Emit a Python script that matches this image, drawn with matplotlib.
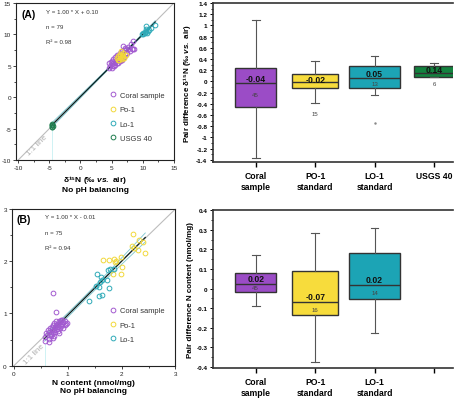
import numpy as np
import matplotlib
matplotlib.use("Agg")
import matplotlib.pyplot as plt
from matplotlib.lines import Line2D
from matplotlib.ticker import MultipleLocator, FuncFormatter

plt.rcParams['font.family'] = ['Liberation Sans', 'DejaVu Sans']
plt.rcParams['axes.unicode_minus'] = False
plt.rcParams['mathtext.fontset'] = 'custom'
plt.rcParams['mathtext.rm'] = 'Liberation Sans:bold'
plt.rcParams['mathtext.bf'] = 'Liberation Sans:bold'
plt.rcParams['mathtext.it'] = 'Liberation Sans:italic:bold'

# ---------------- DATA ----------------
# Panel A scatter: d15N with pH balancing (y) vs no pH balancing (x)
a_coral_x = [4.5, 4.6, 4.7, 4.9, 5.0, 5.0, 5.1, 5.2, 5.3, 5.3, 5.4, 5.5, 5.5, 5.6, 5.7,
             5.8, 5.9, 6.0, 6.0, 6.1, 6.2, 6.3, 6.3, 6.4, 6.5, 6.6, 6.7, 6.8, 6.9, 7.0,
             7.1, 7.2, 7.3, 7.5, 7.6, 7.7, 7.9, 8.1, 8.3, 8.4, 8.5, 8.6, 6.6, 5.8, 7.0]
a_coral_y = [5.4, 4.7, 5.0, 5.6, 4.6, 5.3, 5.8, 5.0, 5.5, 6.1, 4.9, 5.6, 6.4, 5.2, 6.0,
             6.8, 5.5, 5.9, 6.3, 5.4, 6.6, 5.7, 7.1, 6.2, 5.9, 6.8, 7.4, 8.2, 6.5, 7.5,
             7.9, 6.9, 7.6, 7.1, 7.7, 8.0, 7.4, 8.4, 7.6, 8.9, 7.7, 7.6, 6.0, 6.5, 6.4]
a_po1_x = [5.9, 6.0, 6.1, 6.2, 6.3, 6.3, 6.4, 6.5, 6.6, 6.6, 6.7, 6.8, 6.9, 7.0, 7.3]
a_po1_y = [6.3, 6.0, 6.6, 5.9, 6.2, 6.9, 6.5, 7.3, 6.1, 6.7, 6.4, 7.0, 6.6, 6.2, 6.8]
a_lo1_x = [9.9, 10.0, 10.1, 10.3, 10.4, 10.5, 10.6, 10.7, 10.6, 10.8, 11.0, 11.3, 12.0]
a_lo1_y = [10.1, 10.3, 10.0, 10.4, 10.2, 10.5, 11.3, 10.3, 10.8, 10.6, 10.7, 11.0, 11.5]
a_usgs_x = [-4.6, -4.5, -4.5, -4.4, -4.6, -4.5]
a_usgs_y = [-4.3, -4.5, -4.7, -4.6, -4.8, -4.4]
a_stats = ["Y = 1.00 * X + 0.10", "n = 79", "R² = 0.98"]

# Panel B scatter: N content
b_coral_x = [0.57, 0.58, 0.60, 0.62, 0.63, 0.65, 0.66, 0.67, 0.68, 0.69, 0.70, 0.70, 0.71, 0.72, 0.73,
             0.74, 0.75, 0.75, 0.76, 0.77, 0.78, 0.79, 0.80, 0.80, 0.81, 0.82, 0.83, 0.84, 0.85, 0.86,
             0.87, 0.88, 0.89, 0.90, 0.91, 0.92, 0.94, 0.95, 0.97, 0.99, 0.66, 0.72, 0.84, 0.73, 0.78]
b_coral_y = [0.55, 0.47, 0.62, 0.58, 0.68, 0.52, 0.64, 0.72, 0.60, 0.56, 0.75, 0.66, 0.70, 0.62, 0.78,
             0.57, 0.68, 0.81, 0.74, 0.64, 0.77, 0.85, 0.70, 0.80, 0.66, 0.74, 0.86, 0.78, 0.72, 0.83,
             0.88, 0.76, 0.80, 0.87, 0.73, 0.84, 0.78, 0.86, 0.80, 0.82, 0.45, 0.53, 0.62, 1.40, 1.02]
b_po1_x = [1.65, 1.77, 1.85, 1.88, 1.90, 1.99, 2.01, 1.84, 1.99, 2.19, 2.21, 2.23, 2.31, 2.32, 2.39, 2.44]
b_po1_y = [2.02, 2.02, 2.05, 1.98, 2.00, 2.09, 1.88, 1.75, 1.75, 2.29, 2.52, 2.26, 2.21, 2.40, 2.37, 2.15]
b_lo1_x = [1.54, 1.62, 1.64, 1.59, 1.53, 1.58, 1.77, 1.72, 1.75, 1.79, 1.86, 1.58, 1.64, 1.40]
b_lo1_y = [1.76, 1.70, 1.65, 1.61, 1.53, 1.51, 1.48, 1.64, 1.83, 1.85, 1.86, 1.34, 1.36, 1.23]
b_stats = ["Y = 1.00 * X - 0.01", "n = 75", "R² = 0.94"]

# Box panels
box_a_labels = ["Coral\nsample", "PO-1\nstandard", "LO-1\nstandard", "USGS 40"]
box_a_whislo = [-1.37, -0.39, -0.24, 0.08]
box_a_q1 = [-0.46, -0.11, -0.11, 0.08]
box_a_med = [-0.03, -0.015, 0.057, 0.15]
box_a_q3 = [0.24, 0.13, 0.27, 0.28]
box_a_whishi = [1.10, 0.36, 0.45, 0.32]
box_a_fliers = [[], [], [-0.75], []]
box_a_mean = [-0.04, -0.02, 0.05, 0.14]
box_a_n = [45, 15, 13, 6]

box_b_labels = ["Coral\nsample", "PO-1\nstandard", "LO-1\nstandard", ""]
box_b_whislo = [-0.09, -0.373, -0.227]
box_b_q1 = [-0.017, -0.137, -0.051]
box_b_med = [0.024, -0.066, 0.019]
box_b_q3 = [0.080, 0.092, 0.181]
box_b_whishi = [0.171, 0.285, 0.31]
box_b_mean = [0.02, -0.07, 0.02]
box_b_n = [45, 16, 14]

# ---------------- STYLE ----------------
c_coral, c_po1, c_lo1, c_usgs = '#a25ad0', '#f2d83a', '#2eaab8', '#1f7d4f'
box_colors = ['#9b4cc6', '#f7dc3c', '#1ca4b5', '#13823f']

fig = plt.figure(figsize=(4.54, 4.06), dpi=100)
ax1 = fig.add_axes([0.036, 0.6034, 0.347, 0.3867])
ax2 = fig.add_axes([0.469, 0.5985, 0.529, 0.3916])
ax3 = fig.add_axes([0.0264, 0.0968, 0.360, 0.386])
ax4 = fig.add_axes([0.469, 0.0911, 0.529, 0.389])

tick_fs = 4.6
lab_fs = 6.0


def scatter_panel(ax, groups, lims, major, minor, stats, letter, xlabel, leg_anchor, text_xy):
    lo, hi = lims
    ax.set_xlim(lo - (hi - lo) * 0.012, hi)
    ax.set_ylim(lo, hi)
    # 1:1 line
    ax.plot([lo, hi], [lo, hi], color='#bdbdbd', lw=0.8, zorder=1)
    # regression with CI
    allx = np.concatenate([np.asarray(g[0], float) for g in groups])
    ally = np.concatenate([np.asarray(g[1], float) for g in groups])
    b1, b0 = np.polyfit(allx, ally, 1)
    n = len(allx)
    resid = ally - (b0 + b1 * allx)
    s = np.sqrt(np.sum(resid ** 2) / (n - 2))
    xm = allx.mean()
    sxx = np.sum((allx - xm) ** 2)
    xs = np.linspace(allx.min(), allx.max(), 100)
    ys = b0 + b1 * xs
    ci = 1.99 * s * np.sqrt(1.0 / n + (xs - xm) ** 2 / sxx)
    ax.plot([xs[0], xs[0]], [lo, ys[0] - ci[0] - (hi - lo) * 0.02], color='#c8f0f3', lw=0.6, zorder=1)
    ax.plot(xs, ys - ci, color='#7cc6cf', lw=0.6, zorder=2)
    ax.plot(xs, ys + ci, color='#7cc6cf', lw=0.6, zorder=2)
    ax.plot(xs, ys, color='#0b1f1f', lw=0.9, zorder=3)
    handles = []
    for gx, gy, col, lab in groups:
        ax.plot(gx, gy, ls='none', marker='o', ms=3.4, mfc='none', mec=col, mew=0.7, zorder=4)
        handles.append(Line2D([], [], ls='none', marker='o', ms=3.4, mfc='none', mec=col, mew=0.7, label=lab))
    leg = ax.legend(handles=handles, loc='upper left', bbox_to_anchor=leg_anchor, frameon=False,
                    fontsize=5.4, handlelength=0.8, handletextpad=0.5, labelspacing=0.95,
                    borderpad=0, borderaxespad=0)
    for t in leg.get_texts():
        t.set_color('#333333')
    ax.xaxis.set_major_locator(MultipleLocator(major))
    ax.xaxis.set_minor_locator(MultipleLocator(minor))
    ax.yaxis.set_major_locator(MultipleLocator(major))
    ax.yaxis.set_minor_locator(MultipleLocator(minor))
    ax.xaxis.set_major_formatter(FuncFormatter(lambda v, p: f'{v:g}'))
    ax.yaxis.set_major_formatter(FuncFormatter(lambda v, p: f'{v:g}'))
    ax.tick_params(which='major', direction='out', length=2.5, width=0.6, labelsize=tick_fs, pad=1.2,
                   colors='#222222')
    ax.tick_params(which='minor', direction='out', length=1.5, width=0.5)
    ax.tick_params(axis='x', which='both', top=False)
    ax.tick_params(axis='y', which='both', right=False)
    for sp in ax.spines.values():
        sp.set_linewidth(0.8)
        sp.set_color('#222222')
    ax.text(0.03, 0.965, letter, transform=ax.transAxes, fontsize=7.5, fontweight='bold',
            va='top', ha='left')
    tx, ty = text_xy
    for i, st in enumerate(stats):
        ax.text(tx, ty - i * 0.097, st, transform=ax.transAxes, fontsize=4.4, color='#333333',
                va='top', ha='left')
    ax.set_xlabel(xlabel, fontsize=lab_fs, fontweight='bold', labelpad=2, linespacing=1.3)


scatter_panel(ax1,
              [(a_coral_x, a_coral_y, c_coral, 'Coral sample'),
               (a_po1_x, a_po1_y, c_po1, 'Po-1'),
               (a_lo1_x, a_lo1_y, c_lo1, 'Lo-1'),
               (a_usgs_x, a_usgs_y, c_usgs, 'USGS 40')],
              (-10, 15), 5, 2.5, a_stats, '(A)',
              'δ¹⁵N (‰ $vs.$ air)\nNo pH balancing', (0.595, 0.435), (0.19, 0.965))
ax1.text(-7.0, -7.5, '1:1 line', rotation=45, fontsize=5.8, color='#b0b0b0',
         ha='center', va='center', rotation_mode='anchor')

scatter_panel(ax3,
              [(b_coral_x, b_coral_y, c_coral, 'Coral sample'),
               (b_po1_x, b_po1_y, c_po1, 'Po-1'),
               (b_lo1_x, b_lo1_y, c_lo1, 'Lo-1')],
              (0, 3), 1, 0.5, b_stats, '(B)',
              'N content (nmol/mg)\nNo pH balancing', (0.60, 0.375), (0.2, 0.965))
ax3.text(0.38, 0.22, '1:1 line', rotation=45, fontsize=5.8, color='#b0b0b0',
         ha='center', va='center', rotation_mode='anchor')


def box_panel(ax, whislo, q1, med, q3, whishi, fliers, means, ns, labels, colors, widths,
              ylim, major, minor, ylabel, mean_y, n_y):
    k = len(med)
    stats = []
    for i in range(k):
        stats.append(dict(med=med[i], q1=q1[i], q3=q3[i], whislo=whislo[i], whishi=whishi[i],
                          fliers=fliers[i] if fliers else []))
    pos = list(range(k))
    bp = ax.bxp(stats, positions=pos, widths=widths[:k], patch_artist=True, showfliers=True,
                capwidths=0.13,
                boxprops=dict(edgecolor='#333333', linewidth=1.0),
                medianprops=dict(color='#333333', linewidth=1.0),
                whiskerprops=dict(color='#555555', linewidth=0.8),
                capprops=dict(color='#555555', linewidth=0.8),
                flierprops=dict(marker='.', markersize=1.5, markerfacecolor='#888888',
                                markeredgecolor='#888888'))
    for patch, col in zip(bp['boxes'], colors):
        patch.set_facecolor(col)
    for i in range(k):
        ax.text(pos[i], mean_y[i], f'{means[i]:.2f}', ha='center', va='center', fontsize=6.2,
                fontweight='bold', color='#111111', zorder=5)
        ax.text(pos[i], n_y[i], str(ns[i]), ha='center', va='center', fontsize=4.4,
                color='#444444', zorder=5)
    ax.set_xlim(-0.72, 3.32)
    ax.set_ylim(*ylim)
    ax.set_xticks(range(len(labels)))
    ax.set_xticklabels(labels, fontsize=6.2, fontweight='bold', linespacing=1.25)
    ax.yaxis.set_major_locator(MultipleLocator(major))
    ax.yaxis.set_minor_locator(MultipleLocator(minor))
    ax.yaxis.set_major_formatter(FuncFormatter(lambda v, p: f'{round(v, 2):g}'))
    ax.tick_params(axis='y', which='major', direction='out', length=2.5, width=0.7,
                   labelsize=tick_fs, pad=1.5)
    ax.tick_params(axis='y', which='minor', direction='out', length=1.5, width=0.6)
    ax.tick_params(axis='x', direction='out', length=3.5, width=1.0, pad=3)
    for t in ax.get_yticklabels():
        t.set_fontweight('bold')
    ax.spines['right'].set_visible(False)
    for name in ('left', 'bottom', 'top'):
        ax.spines[name].set_linewidth(1.2)
        ax.spines[name].set_color('#333333')
    ax.set_ylabel(ylabel, fontsize=5.8, fontweight='bold', labelpad=2)


widths = [0.69, 0.77, 0.87, 0.67]
box_panel(ax2, box_a_whislo, box_a_q1, box_a_med, box_a_q3, box_a_whishi, box_a_fliers,
          box_a_mean, box_a_n, box_a_labels, box_colors, widths,
          (-1.44, 1.4), 0.2, 0.1, 'Pair difference δ¹⁵N (‰ $vs.$ air)',
          [0.045, 0.04, 0.14, 0.21], [-0.235, -0.57, -0.03, -0.03])
box_panel(ax4, box_b_whislo, box_b_q1, box_b_med, box_b_q3, box_b_whishi, None,
          box_b_mean, box_b_n, box_b_labels, box_colors, widths,
          (-0.405, 0.4), 0.1, 0.05, 'Pair difference N content (nmol/mg)',
          [0.053, -0.042, 0.044], [0.007, -0.107, -0.022])

fig.savefig('out.png', dpi=100)
